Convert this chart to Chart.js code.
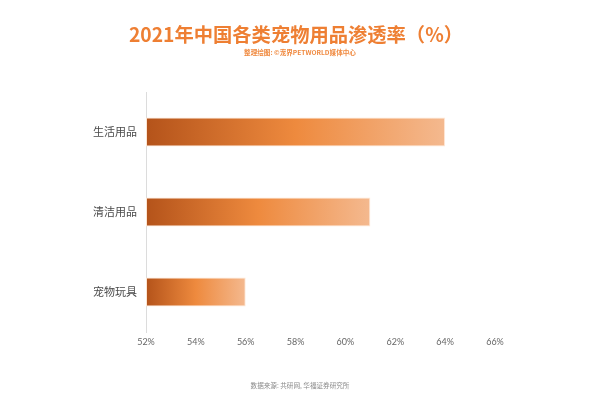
<!DOCTYPE html>
<html lang="zh">
<head>
    <meta charset="UTF-8">
    <title>2021年中国各类宠物用品渗透率</title>
    <script src="https://cdn.jsdelivr.net/npm/chart.js"></script>
    <style>
        html, body { margin: 0; padding: 0; background: #fff; }
        #wrap { position: relative; width: 600px; height: 398px; }
    </style>
</head>
<body>
<div id="wrap"><canvas id="penetrationChart" width="600" height="398"></canvas></div>
<script>
    const categories = ['生活用品', '清洁用品', '宠物玩具'];
    const penetration = [64, 61, 56];
    const xMin = 52;
    const xMax = 66;

    const titleText = '2021年中国各类宠物用品渗透率（%）';
    const subtitleText = '整理绘图: ©宠界PETWORLD媒体中心';
    const sourceText = '数据来源: 共研网, 华福证券研究所';

    const cjk = '"Noto Sans CJK SC", "Noto Sans", sans-serif';

    const headerPlugin = {
        id: 'header',
        afterDraw(chart) {
            const c = chart.ctx;
            c.save();
            c.textAlign = 'center';
            c.textBaseline = 'middle';
            c.fillStyle = '#ee7f33';
            c.font = 'bold 19.3px ' + cjk;
            c.fillText(titleText, 296, 35);
            c.font = 'bold 6.6px ' + cjk;
            c.fillStyle = '#f08a40';
            c.fillText(subtitleText, 300, 52);
            c.font = '6.6px ' + cjk;
            c.fillStyle = '#8a8a8a';
            c.fillText(sourceText, 300, 385);
            c.restore();
        }
    };

    function barGradient(context) {
        const chart = context.chart;
        const x = chart.scales.x;
        if (!x || !chart.chartArea) return '#ee8a3e';
        const v = context.raw;
        const x0 = x.getPixelForValue(xMin);
        const x1 = x.getPixelForValue(v);
        const g = chart.ctx.createLinearGradient(x0, 0, x1, 0);
        g.addColorStop(0, '#b4531a');
        g.addColorStop(0.5, '#ee8a3e');
        g.addColorStop(1, '#f4b98f');
        return g;
    }

    const ctx = document.getElementById('penetrationChart').getContext('2d');
    const penetrationChart = new Chart(ctx, {
        type: 'bar',
        data: {
            labels: categories,
            datasets: [{
                data: penetration,
                backgroundColor: barGradient,
                borderColor: 'rgba(255, 230, 210, 0.9)',
                borderWidth: 1,
                borderSkipped: false,
                base: xMin,
                barPercentage: 0.6,
                categoryPercentage: 0.6
            }]
        },
        options: {
            indexAxis: 'y',
            responsive: false,
            animation: false,
            layout: { padding: { top: 92, right: 105, bottom: 36, left: 0 } },
            plugins: {
                legend: { display: false },
                tooltip: { enabled: false }
            },
            scales: {
                x: {
                    min: xMin,
                    max: xMax,
                    afterFit: s => { s.height = 30; },
                    grid: { display: false, drawTicks: false },
                    border: { display: false },
                    ticks: {
                        stepSize: 2,
                        padding: 5,
                        color: '#666',
                        font: { size: 9, family: 'Lato, "Noto Sans", sans-serif' },
                        callback: v => v + '%'
                    }
                },
                y: {
                    afterFit: s => { s.width = 146; },
                    grid: { display: false, drawTicks: false },
                    border: { display: true, color: '#dcdcdc', width: 1 },
                    ticks: {
                        padding: 9,
                        color: '#4a4a4a',
                        font: { size: 11, family: cjk }
                    }
                }
            }
        },
        plugins: [headerPlugin]
    });
</script>
</body>
</html>
